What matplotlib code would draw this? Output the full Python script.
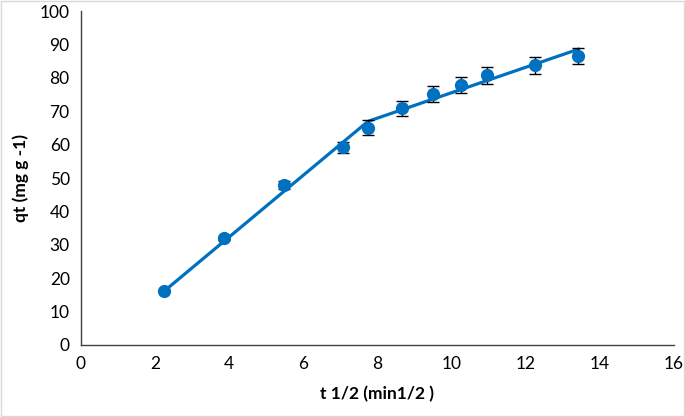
import matplotlib
matplotlib.use("Agg")
import matplotlib.pyplot as plt

# data
t_half = [2.236, 3.873, 5.477, 7.071, 7.746, 8.660, 9.487, 10.247, 10.954, 12.247, 13.416]
qt = [16.1, 32.0, 47.8, 59.2, 65.1, 70.9, 75.2, 77.8, 80.8, 83.8, 86.6]
qt_err = [0.4, 0.7, 1.2, 1.6, 2.2, 2.3, 2.3, 2.4, 2.5, 2.5, 2.5]
fit_x = [2.236, 7.746, 13.416]
fit_y = [16.0, 67.0, 88.6]
x_ticks = [0, 2, 4, 6, 8, 10, 12, 14, 16]
y_ticks = [0, 10, 20, 30, 40, 50, 60, 70, 80, 90, 100]

plt.rcParams['font.family'] = ['Lato', 'DejaVu Sans']
color = '#0070C0'

fig = plt.figure(figsize=(6.85, 4.17), dpi=100)
ax = fig.add_axes([0.118, 0.173, 0.866, 0.800])

ax.plot(fit_x, fit_y, color=color, lw=2.3, zorder=2)
ax.errorbar(t_half, qt, yerr=qt_err, fmt='o', color=color, ms=8.5,
            ecolor='black', elinewidth=1.0, capsize=4, capthick=1.0, zorder=3)

ax.set_xlim(0, 16)
ax.set_ylim(0, 100)
ax.set_xticks(x_ticks)
ax.set_yticks(y_ticks)
ax.tick_params(length=0, labelsize=12.5, colors='black', pad=8)
for s in ['top', 'right']:
    ax.spines[s].set_visible(False)
for s in ['left', 'bottom']:
    ax.spines[s].set_color('#404040')
    ax.spines[s].set_linewidth(1.0)

ax.set_xlabel('t 1/2 (min1/2 )', fontsize=12.5, fontweight='bold', labelpad=10)
ax.set_ylabel('qt (mg g -1)', fontsize=12.5, fontweight='bold', labelpad=8)

fig.patches.append(plt.Rectangle((0.002, 0.002), 0.996, 0.996, transform=fig.transFigure,
                                 fill=False, edgecolor='#d9d9d9', lw=1))

fig.savefig('out.png', dpi=100)
